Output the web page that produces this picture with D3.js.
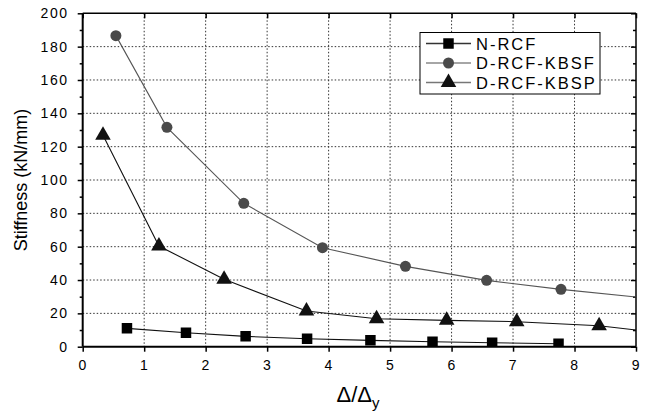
<!DOCTYPE html>
<html>
<head>
<meta charset="utf-8">
<script src="https://cdn.jsdelivr.net/npm/d3@7"></script>
<style>
body { margin:0; background:#fff; }
svg text { font-family: "Liberation Sans", Arial, sans-serif; }
</style>
</head>
<body>
<div id="chart"></div>
<script>
// series values (last point of KBSF / KBSP lies just past x=9, clipped)
var nrcfX = [0.72, 1.68, 2.65, 3.65, 4.68, 5.69, 6.66, 7.74];
var nrcfY = [11.0, 8.4, 6.2, 4.8, 3.8, 3.0, 2.4, 1.8];
var kbsfX = [0.54, 1.37, 2.62, 3.90, 5.25, 6.57, 7.78, 9.4];
var kbsfY = [186.6, 131.6, 86.0, 59.4, 48.2, 39.8, 34.4, 28.3];
var kbspX = [0.33, 1.24, 2.30, 3.64, 4.78, 5.92, 7.06, 8.40, 9.4];
var kbspY = [126.8, 60.4, 40.4, 21.4, 16.8, 15.8, 15.0, 12.6, 8.3];
var xTicks = [0, 1, 2, 3, 4, 5, 6, 7, 8, 9];
var yTicks = [0, 20, 40, 60, 80, 100, 120, 140, 160, 180, 200];
var yMinor = [10, 30, 50, 70, 90, 110, 130, 150, 170, 190];
var seriesNames = ['N-RCF', 'D-RCF-KBSF', 'D-RCF-KBSP'];

var W = 650, H = 412;
var m = {left: 82.7, top: 13.3, right: 14, bottom: 65.3};
var iw = W - m.left - m.right, ih = H - m.top - m.bottom;

var svg = d3.select('#chart').append('svg').attr('width', W).attr('height', H);
var g = svg.append('g').attr('transform', 'translate(' + m.left + ',' + m.top + ')');

var x = d3.scaleLinear().domain([0, 9]).range([0, iw]);
var y = d3.scaleLinear().domain([0, 200]).range([ih, 0]);

svg.append('defs').append('clipPath').attr('id', 'clip')
  .append('rect').attr('width', iw).attr('height', ih);

// grid
g.append('g').selectAll('line').data(xTicks.slice(1, -1)).enter().append('line')
  .attr('x1', d => x(d)).attr('x2', d => x(d)).attr('y1', 0).attr('y2', ih)
  .attr('stroke', '#333').attr('stroke-width', 1).attr('stroke-dasharray', '1.5,2');
g.append('g').selectAll('line').data(yTicks.slice(1, -1)).enter().append('line')
  .attr('y1', d => y(d)).attr('y2', d => y(d)).attr('x1', 0).attr('x2', iw)
  .attr('stroke', '#333').attr('stroke-width', 1).attr('stroke-dasharray', '1.5,2');

// axes
g.append('g').attr('class', 'ax').attr('transform', 'translate(0,' + ih + ')')
  .call(d3.axisBottom(x).tickValues(xTicks).tickSize(5).tickPadding(8).tickFormat(d3.format('d')));
g.append('g').attr('class', 'ax')
  .call(d3.axisLeft(y).tickValues(yTicks).tickSize(5).tickPadding(9).tickFormat(d3.format('d')));
g.append('g').call(d3.axisLeft(y).tickValues(yMinor).tickSize(3).tickFormat(''));
g.append('g').call(d3.axisTop(x).tickValues(xTicks).tickSize(-5).tickFormat(''));
g.append('g').attr('transform', 'translate(' + iw + ',0)')
  .call(d3.axisRight(y).tickValues(yTicks).tickSize(-5).tickFormat(''));
g.append('g').attr('transform', 'translate(' + iw + ',0)')
  .call(d3.axisRight(y).tickValues(yMinor).tickSize(-3).tickFormat(''));
g.selectAll('.domain').remove();
g.selectAll('.tick line').attr('stroke', '#000').attr('stroke-width', 1.5);
g.selectAll('.ax').attr('font-size', null).attr('font-family', null);
g.selectAll('.ax .tick text').style('font-size', '14px').attr('fill', '#000').style('letter-spacing', '1.6px');

// frame
g.append('line').attr('x1', 0).attr('x2', iw).attr('y1', 0).attr('y2', 0).attr('stroke', '#000').attr('stroke-width', 1.5);
g.append('line').attr('x1', iw).attr('x2', iw).attr('y1', 0).attr('y2', ih).attr('stroke', '#000').attr('stroke-width', 1.5);
g.append('line').attr('x1', 0).attr('x2', 0).attr('y1', 0).attr('y2', ih).attr('stroke', '#000').attr('stroke-width', 2);
g.append('line').attr('x1', 0).attr('x2', iw).attr('y1', ih).attr('y2', ih).attr('stroke', '#000').attr('stroke-width', 2);

var series = [
  {xs: nrcfX, ys: nrcfY, line: '#111', fill: '#000', sym: d3.symbolSquare, size: 110, legLine: '#333'},
  {xs: kbsfX, ys: kbsfY, line: '#555', fill: '#4a4a4a', sym: d3.symbolCircle, size: 95, legLine: '#888'},
  {xs: kbspX, ys: kbspY, line: '#111', fill: '#111', sym: d3.symbolTriangle, size: 105, legLine: '#777'}
];

var line = d3.line().x(d => x(d[0])).y(d => y(d[1]));
var plot = g.append('g').attr('clip-path', 'url(#clip)');
series.forEach(function(s) {
  var pts = s.xs.map((v, i) => [v, s.ys[i]]);
  plot.append('path').datum(pts).attr('d', line)
    .attr('fill', 'none').attr('stroke', s.line).attr('stroke-width', 1.1);
  plot.selectAll(null).data(pts.filter(p => p[0] <= 9)).enter().append('path')
    .attr('d', d3.symbol().type(s.sym).size(s.size))
    .attr('transform', d => 'translate(' + x(d[0]) + ',' + y(d[1]) + ')')
    .attr('fill', s.fill);
});

// legend
var lg = svg.append('g').attr('transform', 'translate(420,32.5)');
lg.append('rect').attr('width', 180).attr('height', 61.5)
  .attr('fill', '#fff').attr('stroke', '#000').attr('stroke-width', 1);
series.forEach(function(s, i) {
  var yy = 11 + i * 19.5;
  lg.append('line').attr('x1', 6).attr('x2', 51).attr('y1', yy).attr('y2', yy)
    .attr('stroke', s.legLine).attr('stroke-width', 1.3);
  lg.append('path').attr('d', d3.symbol().type(s.sym).size(s.size))
    .attr('transform', 'translate(28.5,' + yy + ')').attr('fill', s.fill);
  lg.append('text').attr('x', 56).attr('y', yy + 6).style('font-size', '16.5px')
    .style('letter-spacing', '2px').text(seriesNames[i]);
});

// axis titles
svg.append('text').attr('transform', 'translate(27,' + (m.top + ih / 2) + ') rotate(-90)')
  .attr('text-anchor', 'middle').style('font-size', '18px').text('Stiffness (kN/mm)');
var xt = svg.append('text').attr('x', 358).attr('y', 402).attr('text-anchor', 'middle').style('font-size', '22px');
xt.append('tspan').text('\u0394/\u0394');
xt.append('tspan').attr('dy', 6).style('font-size', '15px').text('y');
</script>
</body>
</html>
